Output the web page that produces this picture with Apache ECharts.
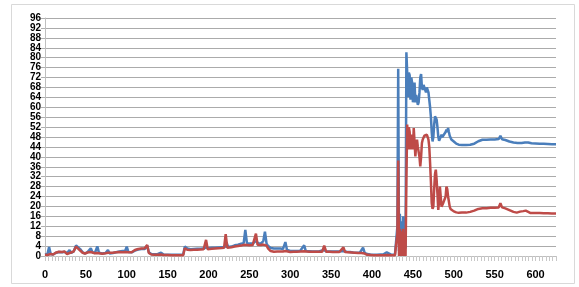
<!DOCTYPE html>
<html>
<head>
<meta charset="utf-8">
<script src="https://cdn.jsdelivr.net/npm/echarts@6/dist/echarts.min.js"></script>
<style>
  html, body { margin: 0; padding: 0; background: #fff; }
  #chart { width: 579px; height: 287px; }
</style>
</head>
<body>
<div id="chart"></div>
<script>
// [x, y] pairs
var bluePts = [
  [0,0.5],[3,0.8],[5,3.6],[7,0.8],[10,0.6],[13,1.2],[17,1.6],[21,1.5],[24,1.7],[27,1.2],[30,2.4],[32,1.2],[35,1.8],[38,4.3],[40,4.0],[43,2.8],[46,1.5],[49,1.0],
  [52,1.6],[56,3.1],[58,1.5],[61,1.2],[64,3.9],[66,1.3],[70,1.0],[74,1.2],[77,2.4],[79,1.0],[83,1.2],[87,1.5],[91,1.8],[95,2.0],[98,2.0],[100,3.8],[102,1.6],
  [106,1.5],[110,2.2],[114,2.6],[118,2.8],[122,2.8],[125,4.2],[127,1.5],[130,0.8],[134,0.7],[138,0.8],[142,1.3],[145,0.6],[150,0.5],[155,0.5],[160,0.5],
  [165,0.5],[169,0.5],[171,3.8],[174,3.0],[178,2.7],[182,2.8],[186,2.9],[190,2.9],[194,3.0],[197,3.5],[200,3.1],[204,3.3],[208,3.3],[212,3.4],[216,3.5],
  [220,3.6],[222,5.5],[224,3.6],[228,3.8],[232,4.3],[236,4.6],[240,5.0],[243,5.2],[245,10.5],[247,5.2],[250,5.0],[254,5.0],[258,6.0],[261,5.2],[264,5.0],
  [267,6.0],[269,9.8],[271,5.0],[273,4.0],[276,3.2],[280,3.0],[284,3.0],[288,3.0],[291,2.8],[294,5.6],[296,2.4],[300,2.0],[304,2.0],[308,2.0],[312,2.0],
  [317,4.3],[319,2.0],[323,1.9],[327,1.8],[331,1.8],[335,1.8],[341,2.4],[344,1.8],[348,1.8],[352,1.8],[356,1.8],[360,1.8],[365,2.0],[369,1.7],[373,1.6],
  [377,1.4],[381,1.3],[385,1.3],[389,3.4],[391,1.3],[394,0.8],[398,0.6],[402,0.5],[406,0.5],[410,0.6],[414,0.7],[418,1.5],[420,0.7],[424,0.5],[428,0.5],
  [430,0.5],[431,12],[432,75.5],[433,2],[434,17],[435,1],[436,14],[437,2],[438,16],[439,1],[440,13],[441,3],
  [442,82.2],[443,74],[444,64],[445,74],[446,73],[447,63],[448,72],[449,70],[450,62],[451,66],[452,70],[453,62],[454,65],[455,63],[456,61],[457,62],
  [458,66],[459,72],[460,73.4],[461,68],[462,67],[463,69],[464,68],[465,68.4],[466,66],[467,68],[468,67],[469,66],[470,65.8],[471,60],[472,56],[473,50],
  [474,46.2],[475,48],[476,53],[477,56.3],[478,56],[479,55],[480,52],[481,48.2],[482,46.5],[483,46.2],[484,47],[485,48.9],[486,48],[487,47.6],[488,49],
  [489,48.9],[490,50],[491,51],[492,50],[493,51.6],[494,50],[495,48.5],[496,48],[497,47],[498,46.5],[500,46.2],[503,45.3],[506,44.9],[510,44.8],[515,44.8],
  [520,44.9],[525,45.3],[530,46.3],[535,46.9],[540,46.9],[545,47.0],[550,47.0],[555,47.2],[557,48.5],[559,47.1],[563,46.8],[568,46.2],[573,45.8],[578,45.6],
  [583,45.6],[587,45.8],[589,46.6],[591,45.8],[595,45.5],[600,45.4],[605,45.3],[610,45.3],[615,45.2],[620,45.1],[625,45.1]
];
var redPts = [
  [0,0.5],[3,0.4],[5,1.0],[7,0.8],[10,0.6],[13,1.3],[17,1.7],[21,1.6],[24,1.8],[27,0.8],[30,1.2],[32,1.0],[35,1.8],[38,3.8],[40,3.5],[43,2.2],[46,1.3],[49,1.0],
  [52,1.4],[56,1.6],[58,1.3],[61,1.1],[64,1.2],[66,1.0],[70,0.9],[74,1.1],[77,1.3],[79,1.0],[83,1.3],[87,1.5],[91,1.6],[95,1.5],[98,1.6],[100,1.8],[102,1.5],
  [106,1.5],[110,2.4],[114,2.8],[118,3.0],[122,3.1],[125,4.4],[127,1.2],[130,0.6],[134,0.5],[138,0.5],[142,0.6],[145,0.4],[150,0.4],[155,0.3],[160,0.3],
  [165,0.3],[169,0.3],[171,3.1],[174,2.5],[178,2.4],[182,2.5],[186,2.5],[190,2.6],[194,2.7],[197,6.5],[199,2.7],[204,2.9],[208,3.0],[212,3.1],[216,3.2],
  [219,3.3],[221,8.8],[223,3.3],[228,3.5],[232,3.8],[236,4.0],[240,4.2],[243,4.5],[245,4.8],[247,4.4],[250,4.3],[254,4.4],[256,4.6],[258,9.0],[260,4.5],
  [264,4.4],[267,4.6],[269,5.0],[271,4.2],[273,3.0],[276,2.0],[280,1.7],[284,1.8],[288,1.8],[291,1.8],[294,2.0],[296,1.8],[300,1.6],[304,1.7],[308,1.7],
  [312,1.8],[317,1.9],[319,1.8],[323,1.7],[327,1.7],[331,1.7],[335,1.7],[339,1.7],[341.5,4.2],[344,1.7],[348,1.7],[352,1.6],[356,1.6],[360,1.6],[365,3.5],
  [367,1.6],[371,1.5],[375,1.4],[379,1.3],[383,1.2],[387,1.2],[389,1.5],[391,1.0],[394,0.5],[398,0.4],[402,0.3],[406,0.3],[410,0.3],[414,0.3],[418,0.4],
  [420,0.3],[424,0.3],[428,0.3],[430,0.3],[431,9],[432,38.5],[433,0],[434,11],[435,0],[436,10],[437,0],[438,11],[439,0],[440,9],[441,0],
  [442,30],[443,53],[444,43],[445,52],[446,50],[447,43],[448,49],[449,47],[450,43],[451,51.6],[452,46],[453,40.2],[454,45],[455,46.9],[456,44],[457,44.2],
  [458,40],[459,36.1],[460,40],[461,45.6],[462,47],[463,47.6],[464,48.5],[465,48.9],[466,49],[467,48.9],[468,48],[469,46.9],[470,44],[471,37.5],[472,30],
  [473,21.3],[474,19],[475,19.9],[476,27],[477,33],[478,34.8],[479,30.7],[480,25],[481,18.6],[482,22],[483,28],[484,24],[485,19.9],[486,20],[487,21.3],
  [488,21.3],[489,21],[490,24],[491,28],[492,27],[493,24],[494,22],[495,19.9],[496,19],[498,18.6],[500,18],[503,17.6],[506,17.4],[510,17.5],[515,17.5],
  [520,17.8],[525,18.3],[530,19],[535,19.3],[540,19.3],[545,19.5],[550,19.5],[555,19.6],[557,21.3],[559,19.6],[563,19.2],[568,18.5],[573,17.8],[577,17.5],
  [581,17.9],[585,18.1],[588,18.3],[591,17.8],[594,17.3],[600,17.3],[605,17.3],[610,17.2],[615,17.2],[620,17.1],[625,17.1]
];
var xMax = 625;
var yMax = 96;

var myChart = echarts.init(document.getElementById('chart'));

var option = {
    animation: false,
    backgroundColor: '#fff',
    graphic: [{
        type: 'rect',
        shape: { x: 11.5, y: 4.5, width: 563, height: 279 },
        style: { fill: 'none', stroke: '#d9d9d9', lineWidth: 1 },
        z: -1
    }],
    grid: { left: 45, right: 23, top: 18, bottom: 31 },
    xAxis: {
        type: 'value',
        min: 0,
        max: xMax,
        interval: 50,
        axisLine: { show: true, lineStyle: { color: '#bfbfbf' } },
        axisTick: { show: true, length: 5, lineStyle: { color: '#c8c8c8' } },
        minorTick: { show: true, splitNumber: 12, length: 5, lineStyle: { color: '#c8c8c8' } },
        splitLine: { show: false },
        axisLabel: {
            color: '#000', fontFamily: 'Liberation Sans', fontWeight: 'bold',
            fontSize: 11, margin: 13, showMaxLabel: false
        }
    },
    yAxis: {
        type: 'value',
        min: 0,
        max: yMax,
        interval: 4,
        axisLine: { show: true, lineStyle: { color: '#bfbfbf' } },
        axisTick: { show: true, length: 4, lineStyle: { color: '#b0b0b0' } },
        splitLine: { show: true, lineStyle: { color: '#ababab', width: 1 } },
        axisLabel: {
            color: '#000', fontFamily: 'Liberation Sans', fontWeight: 'bold',
            fontSize: 10, margin: 4
        }
    },
    series: [
        {
            type: 'line', data: bluePts, symbol: 'none',
            lineStyle: { color: '#4a7ebb', width: 2.5 }
        },
        {
            type: 'line', data: redPts, symbol: 'none',
            lineStyle: { color: '#be4b48', width: 2.5 }
        }
    ]
};

myChart.setOption(option);
</script>
</body>
</html>
